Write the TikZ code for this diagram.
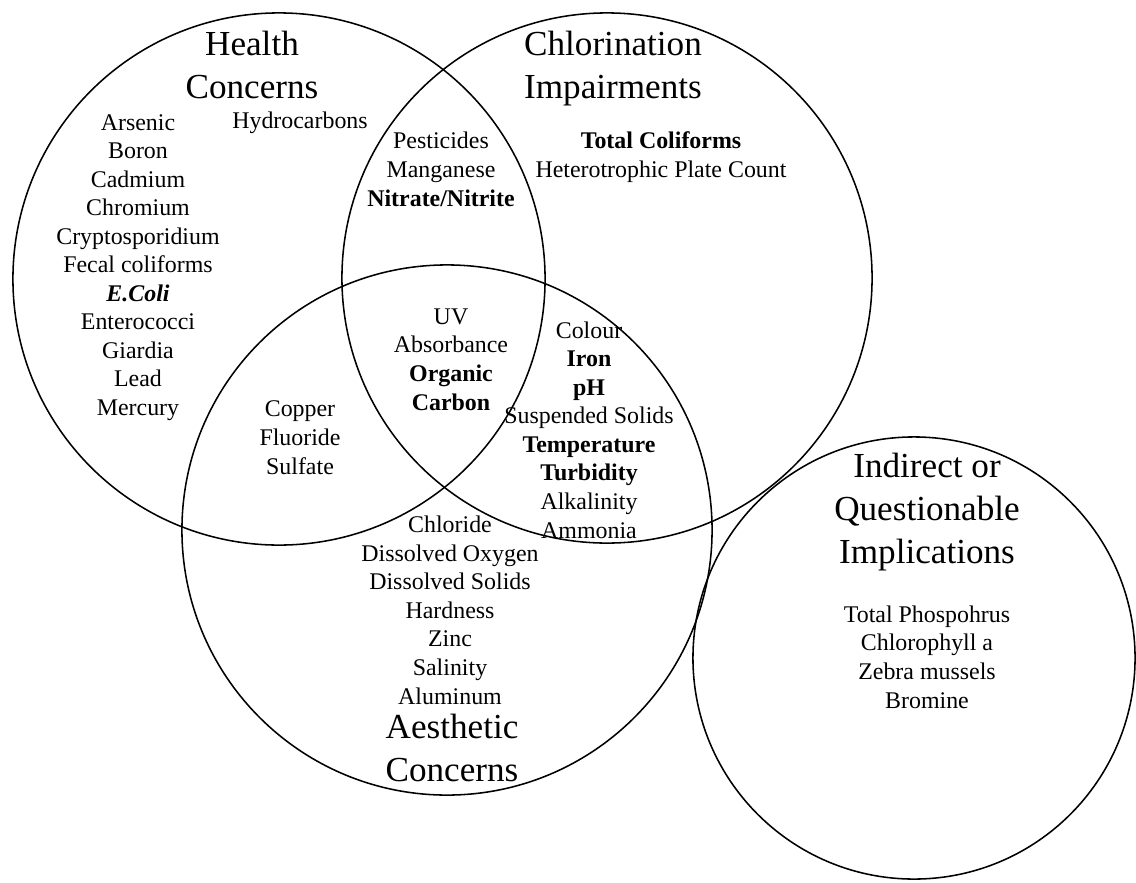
\documentclass[tikz,border=0pt]{standalone}
\usepackage{fontspec}
\setmainfont{Liberation Serif}

\begin{document}
\begin{tikzpicture}[x=0.025cm,y=-0.025cm,
	venn/.style={draw,circle,inner sep=0pt,line width=1.1pt},
	ttl/.style={align=center,anchor=base,inner sep=0pt,font=\fontsize{25}{30.4}\selectfont},
	itm/.style={align=center,anchor=base,inner sep=0pt,font=\fontsize{17}{20.3}\selectfont}]
		\useasboundingbox (0,0) rectangle (1136,882);
		% circles:
		\node[venn,minimum size=13.3cm] (hc) at (279,279) {};
		\node[venn,minimum size=13.25cm] (ci) at (607,278) {};
		\node[venn,minimum size=13.25cm] (ac) at (447,530) {};
		\node[venn,minimum size=11.05cm] (iq) at (914,658) {};
		% titles (placed at the baseline of their last line):
		\node[ttl] (hctitle) at (252,98) {Health\\Concerns};
		\node[ttl] (cititle) at (613,98) {Chlorination\\Impairments};
		\node[ttl] (actitle) at (452,781) {Aesthetic\\Concerns};
		\node[ttl] (iqtitle) at (927,563) {Indirect or\\Questionable\\Implications};
		% parameters:
		\node[itm] (hclist) at (138,415.5) {Arsenic\\Boron\\Cadmium\\Chromium\\Cryptosporidium\\Fecal coliforms\\\textbf{\textit{E.Coli}}\\Enterococci\\Giardia\\Lead\\Mercury};
		\node[itm] (hydro) at (300,128) {Hydrocarbons};
		\node[itm] (hcci) at (441,206) {Pesticides\\Manganese\\\textbf{Nitrate/Nitrite}};
		\node[itm] (cilist) at (661,177) {\textbf{Total Coliforms}\\Heterotrophic Plate Count};
		\node[itm] (all) at (451,410) {UV\\Absorbance\\\textbf{Organic}\\\textbf{Carbon}};
		\node[itm] (hcac) at (300,474) {Copper\\Fluoride\\Sulfate};
		\node[itm] (ciac) at (589,538) {Colour\\\textbf{Iron}\\\textbf{pH}\\Suspended Solids\\\textbf{Temperature}\\\textbf{Turbidity}\\Alkalinity\\Ammonia};
		\node[itm] (aclist) at (450,704) {Chloride\\Dissolved Oxygen\\Dissolved Solids\\Hardness\\Zinc\\Salinity\\Aluminum};
		\node[itm] (iqlist) at (927,708) {Total Phospohrus\\Chlorophyll a\\Zebra mussels\\Bromine};
\end{tikzpicture}
\end{document}
